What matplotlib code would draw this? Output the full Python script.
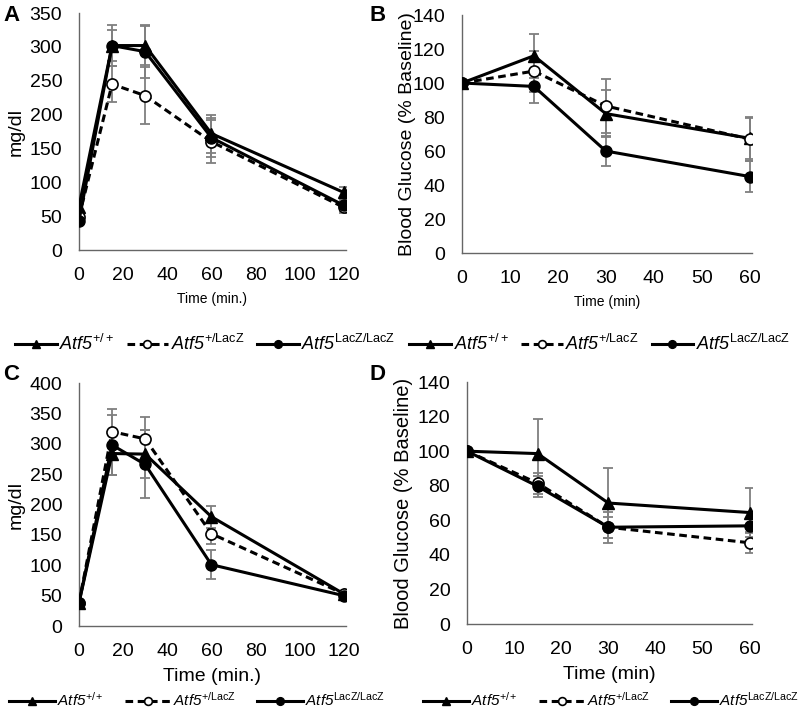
import matplotlib
matplotlib.use("Agg")
import matplotlib.pyplot as plt

plt.rcParams['font.family'] = ['Liberation Sans', 'DejaVu Sans']
plt.rcParams['mathtext.fontset'] = 'custom'
plt.rcParams['mathtext.rm'] = 'Liberation Sans'
plt.rcParams['mathtext.it'] = 'Liberation Sans:italic'

# Time points
t_long = [0, 15, 30, 60, 120]
t_short = [0, 15, 30, 60]

# Panel A (mg/dl)
a_wt = [64, 302, 302, 172, 85]
a_het = [49, 245, 228, 160, 63]
a_ko = [43, 302, 293, 166, 66]
a_wt_err = [5, 30, 29, 28, 8]
a_het_err = [5, 27, 42, 32, 8]
a_ko_err = [5, 23, 39, 29, 8]

# Panel B (% baseline)
b_wt = [100, 116, 82, 67.5]
b_het = [100, 107, 86.5, 67]
b_ko = [100, 98, 60, 45]
b_wt_err = [0, 13, 14, 12]
b_het_err = [0, 12, 16, 13]
b_ko_err = [0, 10, 9, 9]

# Panel C (mg/dl)
c_wt = [38, 284, 283, 180, 53]
c_het = [38, 320, 308, 152, 53]
c_ko = [38, 298, 266, 101, 50]
c_wt_err = [3, 35, 40, 18, 5]
c_het_err = [3, 38, 36, 17, 5]
c_ko_err = [3, 50, 56, 24, 5]

# Panel D (% baseline)
d_wt = [100, 98.6, 70, 64.5]
d_het = [100, 81.5, 56, 47]
d_ko = [100, 79.7, 56, 56.8]
d_wt_err = [0, 20, 20, 14]
d_het_err = [0, 6, 9, 6]
d_ko_err = [0, 6, 6, 4]

labels = [r'Atf5$^{\mathrm{+/+}}$',
          r'Atf5$^{\mathrm{+/LacZ}}$',
          r'Atf5$^{\mathrm{LacZ/LacZ}}$']

styles = [dict(color='black', lw=2.2, ls='-', marker='^', ms=8, mfc='black', mec='black'),
          dict(color='black', lw=2.2, ls=(0, (2.5, 1.5)), marker='o', ms=8, mfc='white', mec='black', mew=1.2),
          dict(color='black', lw=2.2, ls='-', marker='o', ms=8, mfc='black', mec='black')]

fig = plt.figure(figsize=(8.05, 7.18), dpi=100)

def panel(rect, t, series, errs, xmax, xticks, ymax, ystep, ylabel, ylabel_size, ylab_x,
          xlabel, xlabel_size, letter, letter_xy, leg_xy, leg_size, leg_hl, leg_cs):
    ax = fig.add_axes(rect)
    for y, e in zip(series, errs):
        ax.errorbar(t, y, yerr=e, fmt='none', ecolor='#7f7f7f', elinewidth=1.3, capsize=3.5, capthick=1.3, zorder=2)
    handles = []
    for y, st in zip(series, styles):
        h, = ax.plot(t, y, zorder=3, **st)
        handles.append(h)
    ax.set_xlim(0, xmax)
    ax.set_ylim(0, ymax)
    ax.set_xticks(xticks)
    ax.set_yticks(range(0, ymax + 1, ystep))
    for s in ['top', 'right']:
        ax.spines[s].set_visible(False)
    for s in ['left', 'bottom']:
        ax.spines[s].set_color('#666666')
        ax.spines[s].set_linewidth(1.0)
    ax.tick_params(length=0, labelsize=14, pad=12)
    ax.set_ylabel(ylabel, fontsize=ylabel_size)
    ax.yaxis.set_label_coords(ylab_x, 0.5)
    ax.set_xlabel(xlabel, fontsize=xlabel_size, labelpad=6)
    ax.patch.set_alpha(0)
    fig.text(letter_xy[0], letter_xy[1], letter, fontsize=16, fontweight='bold', ha='left', va='center')
    leg = fig.legend(handles, labels, loc='center', bbox_to_anchor=leg_xy,
                     ncol=3, frameon=False, fontsize=leg_size, handlelength=leg_hl, handletextpad=0.15,
                     columnspacing=leg_cs, numpoints=1, markerscale=0.7)
    for txt in leg.get_texts():
        txt.set_fontstyle('italic')
    return ax

panel([0.0981, 0.6518, 0.3317, 0.330], t_long, [a_wt, a_het, a_ko], [a_wt_err, a_het_err, a_ko_err],
      121, [0, 20, 40, 60, 80, 100, 120], 350, 50, 'mg/dl', 14, -0.205, 'Time (min.)', 10,
      'A', (0.004, 0.979), (0.255, 0.521), 13, 2.3, 0.7)
panel([0.5739, 0.6476, 0.3602, 0.3315], t_short, [b_wt, b_het, b_ko], [b_wt_err, b_het_err, b_ko_err],
      60.5, [0, 10, 20, 30, 40, 50, 60], 140, 20, 'Blood Glucose (% Baseline)', 14, -0.159, 'Time (min)', 10,
      'B', (0.459, 0.979), (0.745, 0.521), 13, 2.3, 0.7)
panel([0.0981, 0.1281, 0.3317, 0.3384], t_long, [c_wt, c_het, c_ko], [c_wt_err, c_het_err, c_ko_err],
      121, [0, 20, 40, 60, 80, 100, 120], 400, 50, 'mg/dl', 14, -0.205, 'Time (min.)', 14,
      'C', (0.004, 0.478), (0.245, 0.025), 11, 3.0, 1.4)
panel([0.5801, 0.1309, 0.354, 0.337], t_short, [d_wt, d_het, d_ko], [d_wt_err, d_het_err, d_ko_err],
      60.5, [0, 10, 20, 30, 40, 50, 60], 140, 20, 'Blood Glucose (% Baseline)', 14.5, -0.19, 'Time (min)', 14,
      'D', (0.459, 0.478), (0.759, 0.025), 11, 3.0, 1.4)

fig.savefig('out.png', dpi=100)
